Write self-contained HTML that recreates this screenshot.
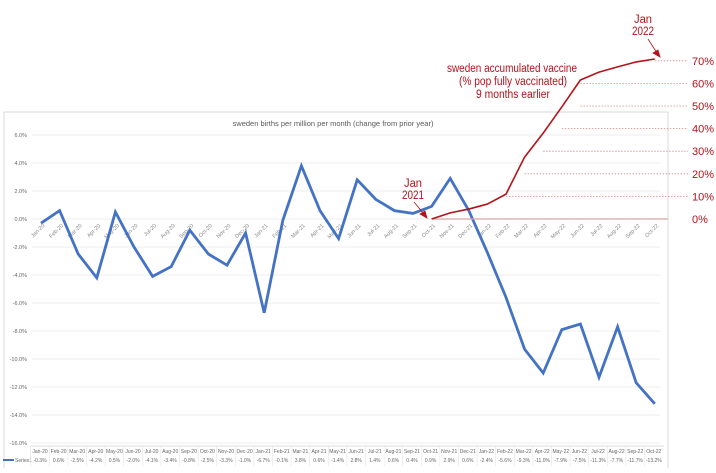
<!DOCTYPE html>
<html><head><meta charset="utf-8"><style>
body{margin:0;background:#fff;width:716px;height:468px;overflow:hidden;font-family:"Liberation Sans",sans-serif}
</style></head><body>
<svg id="c" width="716" height="468" viewBox="0 0 716 468" xmlns="http://www.w3.org/2000/svg">
<rect x="4" y="112" width="664" height="360" fill="#fff" stroke="#d9d9d9"/>
<text x="333" y="126" font-size="7.5" fill="#595959" text-anchor="middle">sweden births per million per month (change from prior year)</text>
<g id="grid"></g><g id="blue"></g><g id="red"></g><g id="table"></g>
<g fill="#b4121b" font-size="11.5" text-anchor="middle">
<text x="512" y="72" textLength="130" lengthAdjust="spacingAndGlyphs">sweden accumulated vaccine</text>
<text x="513" y="85" textLength="108" lengthAdjust="spacingAndGlyphs">(% pop fully vaccinated)</text>
<text x="513" y="98" textLength="74" lengthAdjust="spacingAndGlyphs">9 months earlier</text>
<text x="643" y="23" textLength="18" lengthAdjust="spacingAndGlyphs">Jan</text>
<text x="643" y="35" textLength="22" lengthAdjust="spacingAndGlyphs">2022</text>
<text x="413" y="187" textLength="18" lengthAdjust="spacingAndGlyphs">Jan</text>
<text x="413" y="199" textLength="22" lengthAdjust="spacingAndGlyphs">2021</text>
</g>
<g stroke="#b4121b" fill="#b4121b" stroke-width="0.8">
<line x1="648" y1="39" x2="657" y2="53"/>
<polygon points="660,57 653,53 658,50"/>
<line x1="414" y1="202" x2="424" y2="214"/>
<polygon points="427,218 420,214 425,211"/>
</g>
</svg>
<script>
const categories=["Jan-20","Feb-20","Mar-20","Apr-20","May-20","Jun-20","Jul-20","Aug-20","Sep-20","Oct-20","Nov-20","Dec-20","Jan-21","Feb-21","Mar-21","Apr-21","May-21","Jun-21","Jul-21","Aug-21","Sep-21","Oct-21","Nov-21","Dec-21","Jan-22","Feb-22","Mar-22","Apr-22","May-22","Jun-22","Jul-22","Aug-22","Sep-22","Oct-22"];
const births=[-0.3,0.6,-2.5,-4.2,0.5,-2.0,-4.1,-3.4,-0.8,-2.5,-3.3,-1.0,-6.7,-0.1,3.8,0.6,-1.4,2.8,1.4,0.6,0.4,0.9,2.9,0.6,-2.4,-5.6,-9.3,-11.0,-7.9,-7.5,-11.3,-7.7,-11.7,-13.2];
const vaccineStart=21;
const vaccine=[0,2.7,4.4,6.6,11,27.4,38,49.6,61.5,65,67.3,69.5,70.8];
const leftTicks=[6,4,2,0,-2,-4,-6,-8,-10,-12,-14,-16];
const rightTicks=[0,10,20,30,40,50,60,70];
const NS="http://www.w3.org/2000/svg";
const x=i=>41+i*18.6;
const yL=v=>219-v*14;
const yR=v=>219-v*2.26;
function mk(p,t,a){const e=document.createElementNS(NS,t);for(const k in a)e.setAttribute(k,a[k]);p.appendChild(e);return e;}
const grid=document.getElementById('grid');
leftTicks.forEach(t=>{
 const l=mk(grid,'line',{x1:32,x2:660,y1:yL(t),y2:yL(t),stroke:'#ececec','stroke-width':1});
 
 
 const tx=mk(grid,'text',{x:27,y:yL(t)+2,'font-size':5.5,fill:'#666','text-anchor':'end'});
 tx.textContent=t.toFixed(1)+'%';
 
 
});
categories.forEach((c,i)=>{
 const tx=mk(grid,'text',{x:x(i)+4,y:226,'font-size':5.5,fill:'#888','text-anchor':'end',transform:`rotate(-45 ${x(i)+4} 226)`});
 tx.textContent=c;
 
 
});
const red=document.getElementById('red');
const zl=mk(red,'line',{x1:x(vaccineStart),x2:668,y1:yR(0),y2:yR(0),stroke:'#d9a5a5','stroke-width':1.2});


rightTicks.forEach(t=>{
 let sx=660;
 for(let j=0;j<vaccine.length;j++){if(vaccine[j]>=t){sx=x(vaccineStart+j);break;}}
 if(t>0){const l=mk(red,'line',{x1:sx,x2:688,y1:yR(t),y2:yR(t),stroke:'#d08a8a','stroke-width':0.8,'stroke-dasharray':'1.5,1.5'});
 
 }
 const tx=mk(red,'text',{x:692,y:yR(t)+4,'font-size':11,fill:'#b4121b'});
 tx.textContent=t+'%';
 
 
});
const rp=mk(red,'polyline',{points:vaccine.map((v,j)=>x(vaccineStart+j)+','+yR(v)).join(' '),fill:'none',stroke:'#b4121b','stroke-width':1.6,'stroke-linejoin':'round'});


const blue=document.getElementById('blue');
const bp=mk(blue,'polyline',{points:births.map((v,i)=>x(i)+','+yL(v)).join(' '),fill:'none',stroke:'#4472c4','stroke-width':2.8,'stroke-linejoin':'miter'});


const tb=document.getElementById('table');
const tl=mk(tb,'line',{x1:31,x2:664,y1:446,y2:446,stroke:'#ddd'});


const lg=mk(tb,'line',{x1:3,x2:14,y1:460,y2:460,stroke:'#4472c4','stroke-width':2});


const lt=mk(tb,'text',{x:15,y:462,'font-size':5,fill:'#666'});
lt.textContent='Series1';


categories.forEach((c,i)=>{
 const cx=40+i*18.6;
 const a=mk(tb,'text',{x:cx,y:453,'font-size':5,fill:'#666','text-anchor':'middle'});
 a.textContent=c;
 
 
 const b=mk(tb,'text',{x:cx,y:462,'font-size':5,fill:'#666','text-anchor':'middle'});
 b.textContent=births[i].toFixed(1)+'%';
 
 
 const s=mk(tb,'line',{x1:cx-9.3,x2:cx-9.3,y1:446,y2:466,stroke:'#e4e4e4','stroke-width':0.6});
 
 
});
</script>
</body></html>
